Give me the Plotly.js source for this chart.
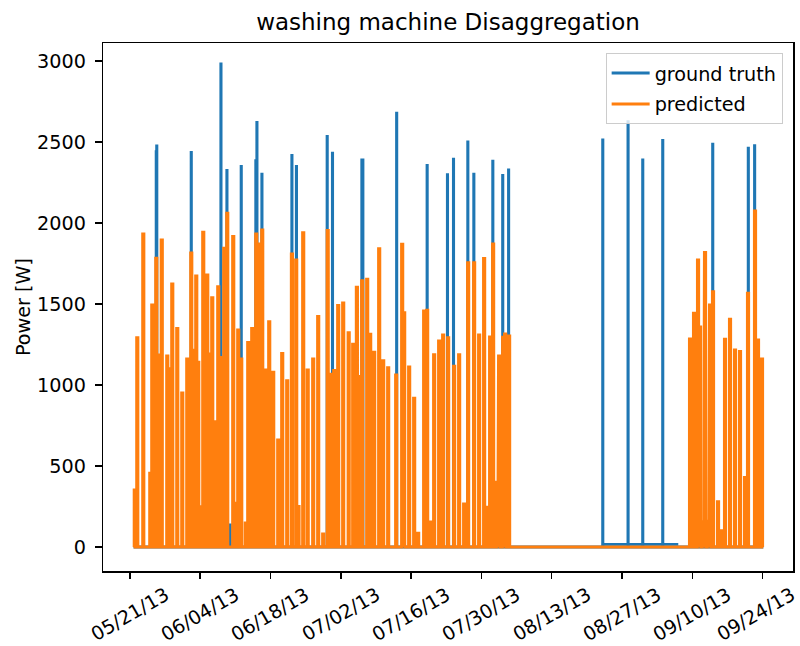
<!DOCTYPE html>
<html><head><meta charset="utf-8">
<script src="https://cdn.plot.ly/plotly-3.0.1.min.js"></script>
<style>html,body{margin:0;padding:0;background:#fff}#chart{width:800px;height:646px}</style>
</head><body><div id="chart"></div>
<script>
// Time axis: days counted from 2013-05-21 00:00
const START = Date.UTC(2013, 4, 21);
const dataStartDay = 0.756;
const dataEndDay = 126.129;

// Ground truth (washing machine) cycles: day offset and peak power [W]
const gtDay = [5.274, 5.373, 6.070, 12.239, 18.150, 19.343, 20.000, 22.189, 25.100, 25.313, 26.308, 32.279, 33.180, 39.303, 40.358, 46.209, 46.400, 53.134, 59.204, 63.250, 64.450, 67.303, 68.500, 72.279, 74.250, 75.420, 94.169, 99.204, 102.129, 106.109, 116.060, 123.144, 124.400];
const gtPower = [2440, 2475, 465, 2434, 2980, 2323, 136, 2348, 2383, 2619, 2300, 2416, 2348, 2533, 2430, 2389, 2389, 2677, 2354, 2298, 2393, 2500, 2300, 2381, 2292, 2327, 2512, 2625, 2389, 2508, 2486, 2461, 2477];
// Ground truth standby level during the August period
const gtIdleDay = [94.0, 109.2];
const gtIdlePower = [16, 16];

// Predicted cycles: day offset and peak power [W]
const predDay = [0.995, 1.493, 2.687, 4.080, 4.478, 5.274, 5.672, 6.368, 7.463, 7.861, 8.060, 8.458, 9.453, 10.448, 11.443, 12.239, 12.697, 13.234, 13.632, 14.030, 14.627, 15.423, 16.020, 16.418, 17.015, 17.612, 18.109, 18.806, 19.403, 20.597, 21.134, 21.592, 22.189, 23.104, 23.582, 24.378, 25.174, 25.572, 26.368, 27.104, 27.761, 28.557, 29.552, 30.348, 31.343, 32.279, 33.134, 33.592, 34.527, 35.423, 36.517, 37.512, 38.507, 39.403, 40.100, 40.697, 41.493, 42.488, 43.582, 44.478, 45.214, 45.473, 46.269, 47.264, 47.861, 48.657, 49.652, 50.448, 51.443, 53.035, 54.229, 54.627, 55.622, 56.617, 57.413, 58.607, 59.204, 60.000, 60.597, 61.592, 62.388, 63.383, 64.577, 65.572, 66.567, 67.363, 68.557, 69.552, 70.547, 71.284, 71.741, 72.338, 73.134, 73.532, 74.328, 74.726, 75.522, 111.542, 112.338, 113.134, 113.532, 114.129, 114.527, 115.124, 115.522, 116.119, 117.114, 117.711, 118.507, 119.502, 120.498, 121.493, 122.488, 123.085, 124.478, 125.075, 125.871];
const predPower = [352, 1292, 1932, 456, 1494, 1782, 1185, 1895, 1179, 1100, 403, 1623, 1348, 950, 1160, 1814, 1214, 1673, 1140, 249, 1942, 1679, 1191, 1539, 773, 1607, 1170, 1844, 2060, 1916, 270, 1340, 1160, 148, 1263, 1348, 1932, 1870, 1957, 1093, 1391, 1078, 660, 1195, 1026, 1808, 1771, 250, 1940, 1093, 1160, 1422, 80, 1953, 1066, 1089, 1490, 1506, 1323, 1251, 1603, 1053, 1644, 1652, 1313, 1202, 1840, 1150, 1107, 1062, 1868, 1446, 1111, 918, 86, 1457, 1461, 154, 1187, 1272, 1309, 1292, 1115, 1187, 265, 1755, 1755, 1309, 1780, 245, 1296, 1870, 400, 1179, 1294, 1315, 1302, 1284, 1442, 1772, 1358, 156, 1817, 160, 1494, 1576, 280, 100, 1282, 1405, 1216, 1206, 430, 1566, 2074, 1278, 1160];

const tickDates = ['2013-05-21', '2013-06-04', '2013-06-18', '2013-07-02', '2013-07-16', '2013-07-30', '2013-08-13', '2013-08-27', '2013-09-10', '2013-09-24'];
const tickLabels = ['05/21/13', '06/04/13', '06/18/13', '07/02/13', '07/16/13', '07/30/13', '08/13/13', '08/27/13', '09/10/13', '09/24/13'];
const yTicks = [0, 500, 1000, 1500, 2000, 2500, 3000];

function iso(d) { return new Date(START + d * 86400000).toISOString().slice(0, 23).replace('T', ' '); }
// each cycle is drawn as a short on-period of the given duration (days)
function series(days, vals, dur) {
  const x = [iso(dataStartDay)], y = [0];
  days.forEach((d, i) => {
    const a = d - dur / 2, b = d + dur / 2;
    x.push(iso(a), iso(a), iso(b), iso(b));
    y.push(0, vals[i], vals[i], 0);
  });
  x.push(iso(dataEndDay)); y.push(0);
  return {x, y};
}

const BLUE = '#1f77b4', ORANGE = '#ff7f0e';
const LW = 2.9;
const gt = series(gtDay, gtPower, 0.04);
const pr = series(predDay, predPower, 0.25);
const FONT = 'DejaVu Sans, sans-serif';
const FS = 19.2;

const traces = [
  {x: gt.x, y: gt.y, type: 'scatter', mode: 'lines', name: 'ground truth', line: {color: BLUE, width: LW}, legendgroup: 'gt'},
  {x: gtIdleDay.map(iso), y: gtIdlePower, type: 'scatter', mode: 'lines', name: 'ground truth', showlegend: false, line: {color: BLUE, width: LW}, legendgroup: 'gt'},
  {x: pr.x, y: pr.y, type: 'scatter', mode: 'lines', name: 'predicted', line: {color: ORANGE, width: LW}, legendgroup: 'pr'}
];

const axisCommon = {
  showline: true, mirror: true, linecolor: '#000', linewidth: 1.5,
  ticks: 'outside', ticklen: 6.7, tickwidth: 1.5, tickcolor: '#000',
  showgrid: false, zeroline: false,
  tickfont: {family: FONT, size: FS, color: '#000'}
};

// rotated date labels, centred under each tick (as matplotlib draws them)
const xLabelAnnotations = tickDates.map((d, i) => ({
  x: d, xref: 'x', y: -0.0824, yref: 'paper',
  text: tickLabels[i], showarrow: false, textangle: -30,
  xanchor: 'center', yanchor: 'middle', borderpad: 0,
  xshift: i === tickDates.length - 1 ? -7 : 0,
  font: {family: FONT, size: FS, color: '#000'}
}));

const layout = {
  width: 800, height: 646,
  margin: {l: 103, r: 7, t: 43, b: 75, pad: 0},
  paper_bgcolor: '#fff', plot_bgcolor: '#fff',
  font: {family: FONT, size: FS, color: '#000'},
  title: {text: 'washing machine Disaggregation', font: {family: FONT, size: 23, color: '#000'},
          x: 0.5, xref: 'paper', xanchor: 'center', y: 1 - 22 / 646, yref: 'container', yanchor: 'middle'},
  xaxis: Object.assign({}, axisCommon, {
    type: 'date', range: [iso(-5.333), iso(132.04)],
    tickmode: 'array', tickvals: tickDates, ticktext: tickLabels, showticklabels: false
  }),
  yaxis: Object.assign({}, axisCommon, {
    range: [-148, 3110], tickmode: 'array', tickvals: yTicks, ticktext: yTicks.map(String),
    ticklabelstandoff: 5,
    title: {text: 'Power [W]', font: {family: FONT, size: FS, color: '#000'}, standoff: 1}
  }),
  annotations: xLabelAnnotations,
  showlegend: true,
  legend: {x: 0.985, y: 0.981, xanchor: 'right', yanchor: 'top', tracegroupgap: 3,
           itemwidth: 38,
           bgcolor: 'rgba(255,255,255,0.8)', bordercolor: '#cccccc', borderwidth: 1,
           font: {family: FONT, size: FS, color: '#000'}}
};

Plotly.newPlot('chart', traces, layout, {displayModeBar: false, staticPlot: true});
</script>
</body></html>
